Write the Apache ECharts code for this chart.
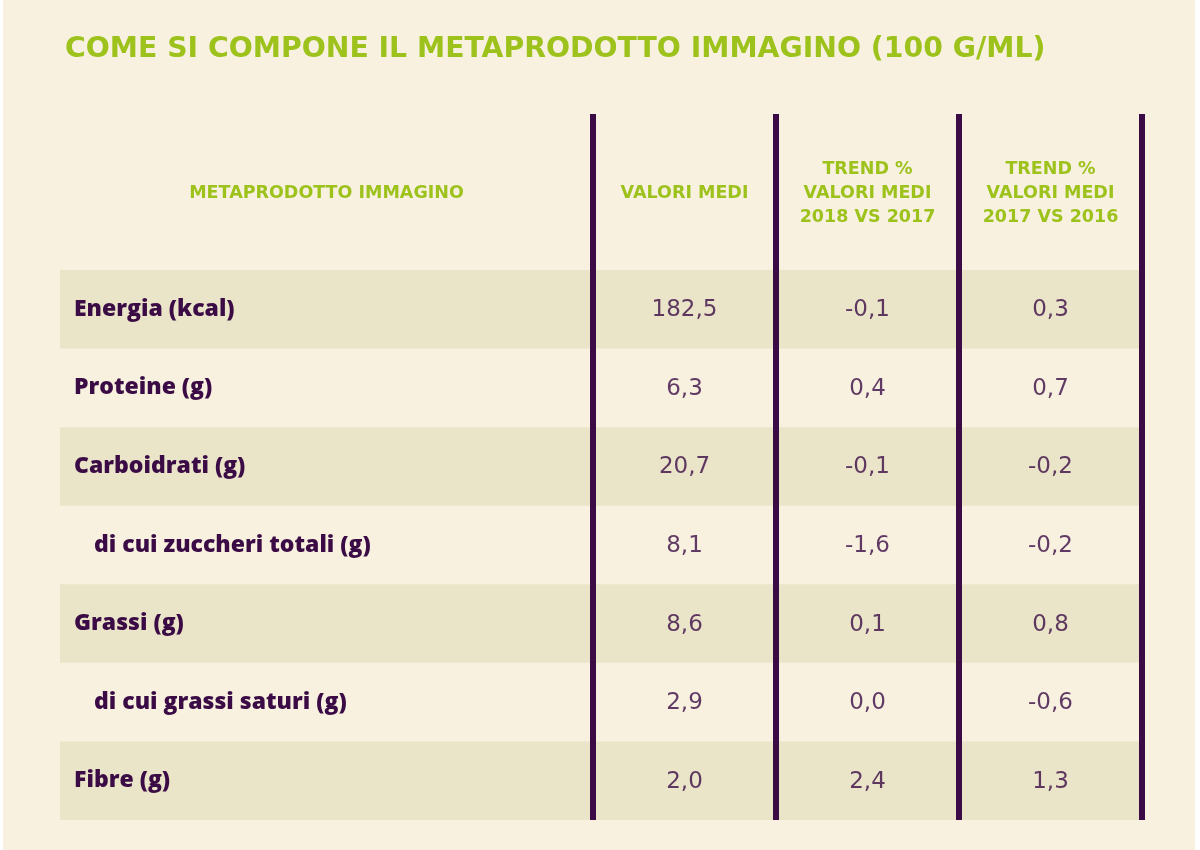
<!DOCTYPE html>
<html>
<head>
<meta charset="utf-8">
<script src="https://cdn.jsdelivr.net/npm/echarts@6/dist/echarts.min.js"></script>
<style>
  html, body { margin: 0; padding: 0; background: #ffffff; }
  #chart { position: absolute; left: 3px; top: 0; width: 1192px; height: 850px; }
</style>
</head>
<body>
<div id="chart"></div>
<script>
// ---- data ----
const titleText = 'COME SI COMPONE IL METAPRODOTTO IMMAGINO (100 G/ML)';
const labelHeader = 'METAPRODOTTO IMMAGINO';
const valueHeaders = ['VALORI MEDI', 'TREND %\nVALORI MEDI\n2018 VS 2017', 'TREND %\nVALORI MEDI\n2017 VS 2016'];
const rowLabels = ['Energia (kcal)', 'Proteine (g)', 'Carboidrati (g)', 'di cui zuccheri totali (g)', 'Grassi (g)', 'di cui grassi saturi (g)', 'Fibre (g)'];
const subRows = [false, false, false, true, false, true, false];
const valoriMedi = [182.5, 6.3, 20.7, 8.1, 8.6, 2.9, 2.0];
const trend2018vs2017 = [-0.1, 0.4, -0.1, -1.6, 0.1, 0.0, 2.4];
const trend2017vs2016 = [0.3, 0.7, -0.2, -0.2, 0.8, -0.6, 1.3];

// ---- styles ----
const GREEN = '#9DC21C';
const PURPLE = '#3A0B45';
const BG = '#F8F1DF';
const BAND = '#EAE4C8';

const columns = [valoriMedi, trend2018vs2017, trend2017vs2016];
const cells = [];
columns.forEach((col, j) => col.forEach((v, i) => cells.push([j, i, v])));

const fmt = v => v.toFixed(1).replace('.', ',');

const headerLabel = { margin: 77, verticalAlign: 'middle', color: GREEN, fontFamily: 'DejaVu Sans', fontWeight: 'bold', fontSize: 17.5, lineHeight: 24, interval: 0 };
const rowFont = { color: PURPLE, fontFamily: 'Open Sans', fontWeight: 800, fontSize: 23 };

const chart = echarts.init(document.getElementById('chart'));
chart.setOption({
  backgroundColor: BG,
  animation: false,
  title: {
    text: titleText,
    left: 57, top: 31,
    textStyle: { color: GREEN, fontFamily: 'DejaVu Sans', fontWeight: 'bold', fontSize: 28.3 }
  },
  grid: [
    { left: 57, width: 533, top: 270, bottom: 30 },
    { left: 590, width: 549, top: 270, bottom: 30 },
    { left: 590, width: 549, top: 114, bottom: 30 }
  ],
  xAxis: [
    {
      gridIndex: 0, type: 'category', data: [labelHeader], position: 'top',
      axisLine: { show: false }, axisTick: { show: false },
      axisLabel: headerLabel
    },
    {
      gridIndex: 1, type: 'category', data: valueHeaders, position: 'top',
      axisLine: { show: false }, axisTick: { show: false },
      axisLabel: headerLabel
    },
    {
      gridIndex: 2, type: 'category', data: valueHeaders, z: 10,
      axisLine: { show: false }, axisTick: { show: false }, axisLabel: { show: false },
      splitLine: { show: true, interval: 0, lineStyle: { color: PURPLE, width: 6 } }
    }
  ],
  yAxis: [
    {
      gridIndex: 0, type: 'category', data: rowLabels, inverse: true,
      axisLine: { show: false }, axisTick: { show: false },
      axisLabel: {
        inside: true, margin: 14, interval: 0,
        formatter: (v, i) => subRows[i] ? '{sub|' + v + '}' : '{main|' + v + '}',
        rich: {
          main: rowFont,
          sub: Object.assign({}, rowFont, { padding: [0, 0, 0, 20] })
        }
      },
      splitArea: { show: true, interval: 0, areaStyle: { color: [BAND, 'rgba(0,0,0,0)'] } }
    },
    {
      gridIndex: 1, type: 'category', data: rowLabels, inverse: true,
      axisLine: { show: false }, axisTick: { show: false }, axisLabel: { show: false },
      splitArea: { show: true, interval: 0, areaStyle: { color: [BAND, 'rgba(0,0,0,0)'] } }
    },
    {
      gridIndex: 2, type: 'value', show: false
    }
  ],
  series: [
    {
      type: 'scatter', xAxisIndex: 1, yAxisIndex: 1,
      data: cells, symbolSize: 0,
      label: {
        show: true, position: 'inside', offset: [0, 1],
        formatter: p => fmt(p.value[2]),
        color: PURPLE, fontFamily: 'DejaVu Sans', fontWeight: 'normal', fontSize: 23
      }
    }
  ]
});
</script>
</body>
</html>
